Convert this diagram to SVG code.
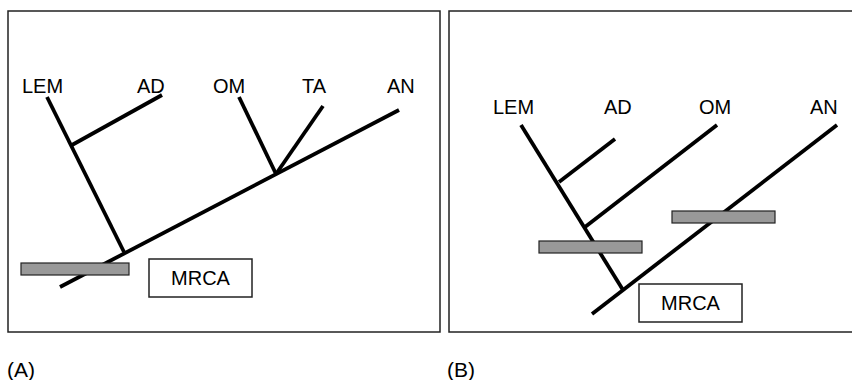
<svg xmlns="http://www.w3.org/2000/svg" width="852" height="380" viewBox="0 0 852 380">
<style>
.frame{fill:none;stroke:#222;stroke-width:1.5}
.br{stroke:#000;stroke-width:3.8;fill:none}
.bar{fill:#999;stroke:#222;stroke-width:1.2}
.box{fill:#fff;stroke:#222;stroke-width:1.5}
text{font-family:"Liberation Sans",Arial,sans-serif;fill:#000}
.tl{font-size:20px}
.cap{font-size:21px}
</style>
<rect width="852" height="380" fill="#fff"/>
<g id="panelA">
<rect class="frame" x="8" y="11" width="432" height="321"/>
<g id="connectorsA">
<line class="br" x1="60" y1="287" x2="399" y2="110"/>
<line class="br" x1="47" y1="97" x2="124" y2="252"/>
<line class="br" x1="72" y1="145" x2="162" y2="95"/>
<line class="br" x1="239" y1="97" x2="276" y2="174"/>
<line class="br" x1="276" y1="174" x2="323" y2="106"/>
</g>
<g id="A-LEM"><text class="tl" x="22" y="93">LEM</text></g>
<g id="A-AD"><text class="tl" x="137" y="93">AD</text></g>
<g id="A-OM"><text class="tl" x="213" y="93">OM</text></g>
<g id="A-TA"><text class="tl" x="302" y="93">TA</text></g>
<g id="A-AN"><text class="tl" x="387" y="93">AN</text></g>
<g id="A-bar"><rect class="bar" x="21" y="263" width="108" height="12"/></g>
<g id="A-MRCA"><rect class="box" x="149" y="259" width="103" height="38"/><text class="tl" x="200.5" y="285" text-anchor="middle">MRCA</text></g>
<g id="A-label"><text class="cap" x="7" y="377">(A)</text></g>
</g>
<g id="panelB">
<rect class="frame" x="449" y="11" width="410" height="321"/>
<g id="connectorsB">
<line class="br" x1="592" y1="314" x2="837" y2="125"/>
<line class="br" x1="521" y1="125" x2="623" y2="290"/>
<line class="br" x1="559" y1="182" x2="615" y2="139"/>
<line class="br" x1="585" y1="227" x2="717" y2="125"/>
</g>
<g id="B-LEM"><text class="tl" x="493" y="114">LEM</text></g>
<g id="B-AD"><text class="tl" x="604" y="114">AD</text></g>
<g id="B-OM"><text class="tl" x="699" y="114">OM</text></g>
<g id="B-AN"><text class="tl" x="810" y="114">AN</text></g>
<g id="B-bar1"><rect class="bar" x="539" y="241" width="103" height="12"/></g>
<g id="B-bar2"><rect class="bar" x="672" y="211" width="103" height="12"/></g>
<g id="B-MRCA"><rect class="box" x="639" y="284" width="103" height="38"/><text class="tl" x="690.5" y="310" text-anchor="middle">MRCA</text></g>
<g id="B-label"><text class="cap" x="447" y="377">(B)</text></g>
</g>
</svg>
